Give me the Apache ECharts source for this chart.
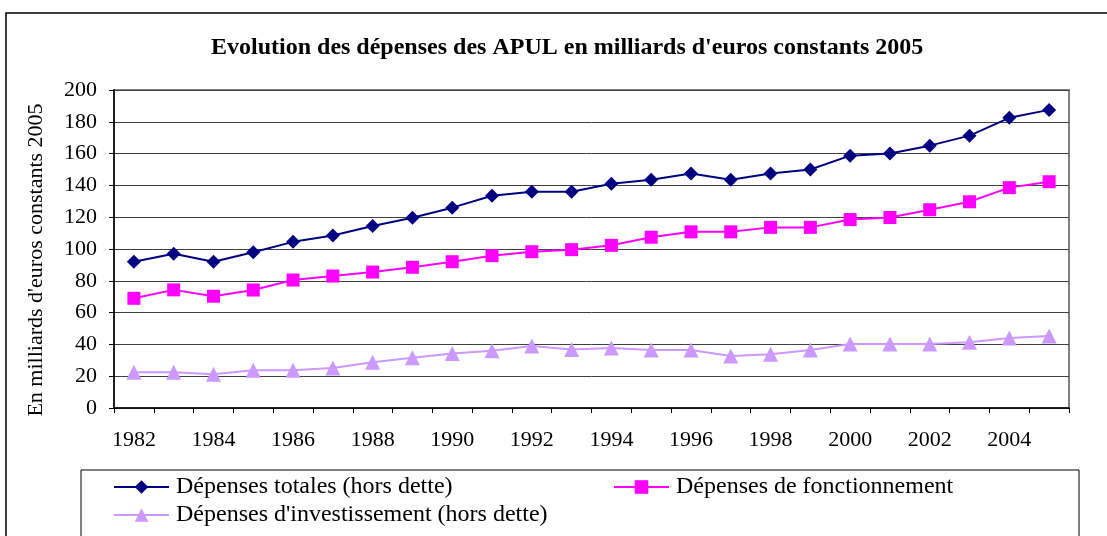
<!DOCTYPE html>
<html>
<head>
<meta charset="utf-8">
<script src="https://cdn.jsdelivr.net/npm/echarts@6/dist/echarts.min.js"></script>
<style>
  html, body { margin: 0; padding: 0; background: #fff; }
  #chart { width: 1107px; height: 536px; }
</style>
</head>
<body>
<div id="chart"></div>
<script>
const years = ['1982', '1983', '1984', '1985', '1986', '1987', '1988', '1989', '1990', '1991', '1992', '1993',
    '1994', '1995', '1996', '1997', '1998', '1999', '2000', '2001', '2002', '2003', '2004', '2005'];

// Dépenses totales (hors dette)
const totales = [92, 97, 92, 98, 104.5, 108.5, 114.5, 119.7, 126, 133.5, 136, 136, 141, 143.5, 147.5, 143.5,
    147.5, 150, 158.7, 160, 165, 171.3, 182.5, 187.5];
// Dépenses de fonctionnement
const fonctionnement = [69, 74.3, 70.3, 74.2, 80.5, 83, 85.5, 88.5, 92, 95.8, 98.3, 99.6, 102.3, 107.4, 110.8, 110.8,
    113.6, 113.6, 118.5, 119.8, 124.7, 129.7, 138.6, 142.3];
// Dépenses d'investissement (hors dette)
const investissement = [22.5, 22.5, 21.3, 23.8, 23.8, 25.2, 28.8, 31.6, 34.3, 36, 39, 36.8, 37.8, 36.5, 36.5, 32.7,
    33.8, 36.5, 40.2, 40.2, 40.2, 41.4, 44, 45.3];

const serif = '"Liberation Serif", "Times New Roman", serif';

const chart = echarts.init(document.getElementById('chart'));

const option = {
    backgroundColor: '#fff',
    animation: false,
    title: {
        text: "Evolution des dépenses des APUL en milliards d'euros constants 2005",
        left: 206,
        top: 31,
        textStyle: {
            fontFamily: serif,
            fontWeight: 'bold',
            fontSize: 24,
            color: '#000'
        }
    },
    grid: {
        left: 114,
        right: 38,
        top: 90,
        bottom: 128,
        show: true,
        borderColor: '#808080',
        borderWidth: 2
    },
    legend: [
        {
            data: ['Dépenses totales (hors dette)', "Dépenses d'investissement (hors dette)"],
            orient: 'vertical',
            left: 108,
            top: 470,
            itemWidth: 55,
            itemHeight: 17,
            itemGap: 4,
            textStyle: {fontFamily: serif, fontSize: 24, color: '#000', padding: [0, 0, 0, 2]}
        },
        {
            data: ['Dépenses de fonctionnement'],
            orient: 'vertical',
            left: 608,
            top: 470,
            itemWidth: 55,
            itemHeight: 17,
            textStyle: {fontFamily: serif, fontSize: 24, color: '#000', padding: [0, 0, 0, 2]}
        }
    ],
    xAxis: {
        type: 'category',
        data: years,
        boundaryGap: true,
        axisLine: {lineStyle: {color: '#000', width: 1.5}},
        axisTick: {show: true, interval: 0, length: 5, lineStyle: {color: '#000'}},
        axisLabel: {
            interval: 1,
            margin: 21,
            fontFamily: serif,
            fontSize: 22,
            color: '#000'
        },
        splitLine: {show: false}
    },
    yAxis: {
        type: 'value',
        min: 0,
        max: 200,
        interval: 20,
        name: "En milliards d'euros constants 2005",
        nameLocation: 'middle',
        nameRotate: 90,
        nameGap: 67,
        nameTextStyle: {fontFamily: serif, fontSize: 22, color: '#000', padding: [0, 22, 0, 0]},
        axisLine: {show: true, lineStyle: {color: '#000', width: 1.5}},
        axisTick: {show: true, length: 5, lineStyle: {color: '#000'}},
        axisLabel: {
            margin: 17,
            fontFamily: serif,
            fontSize: 22,
            color: '#000'
        },
        splitLine: {lineStyle: {color: '#404040', width: 1}}
    },
    series: [
        {
            name: 'Dépenses totales (hors dette)',
            type: 'line',
            data: totales,
            symbol: 'diamond',
            symbolSize: 14,
            lineStyle: {color: '#000080', width: 2},
            itemStyle: {color: '#000080'}
        },
        {
            name: 'Dépenses de fonctionnement',
            type: 'line',
            data: fonctionnement,
            symbol: 'rect',
            symbolSize: 13,
            lineStyle: {color: '#FF00FF', width: 2},
            itemStyle: {color: '#FF00FF'}
        },
        {
            name: "Dépenses d'investissement (hors dette)",
            type: 'line',
            data: investissement,
            symbol: 'triangle',
            symbolSize: 15,
            lineStyle: {color: '#CC99FF', width: 2},
            itemStyle: {color: '#CC99FF'}
        }
    ],
    graphic: [
        {
            type: 'rect',
            shape: {x: 6, y: 13, width: 1200, height: 600},
            style: {fill: null, stroke: '#000', lineWidth: 1.5},
            silent: true
        },
        {
            type: 'rect',
            shape: {x: 81, y: 470, width: 998, height: 100},
            style: {fill: null, stroke: '#000', lineWidth: 1},
            silent: true
        }
    ]
};

chart.setOption(option);
</script>
</body>
</html>
